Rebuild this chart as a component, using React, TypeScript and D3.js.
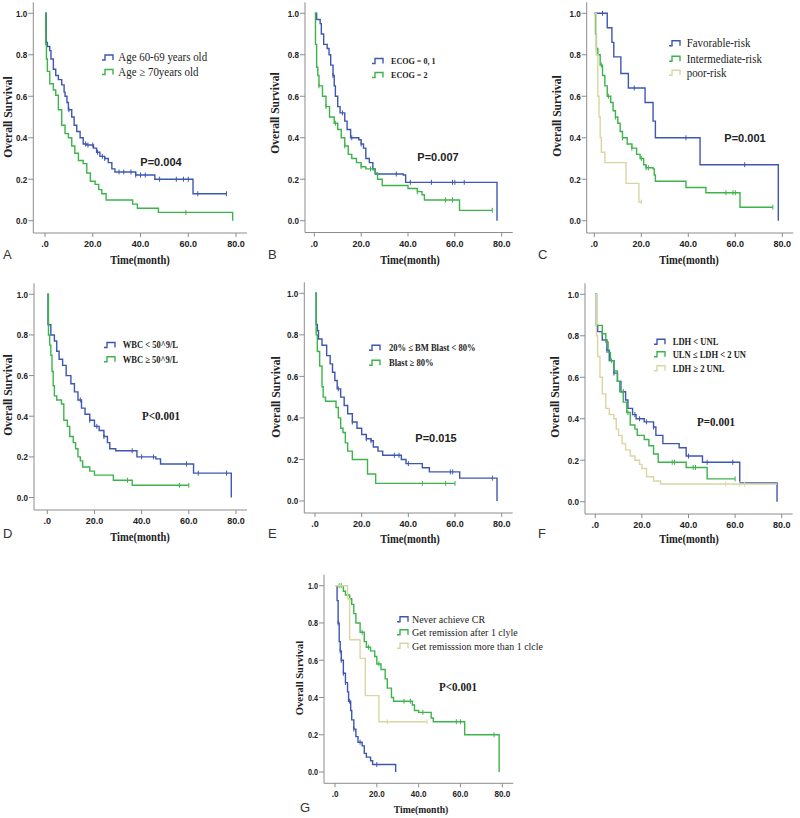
import React from "react";
import * as d3 from "d3";

type Pt = [number, number];

// ---------- axis ticks ----------
const xTicks = [0, 20, 40, 60, 80];
const xTickLabels = [".0", "20.0", "40.0", "60.0", "80.0"];
const yTicks = [0, 0.2, 0.4, 0.6, 0.8, 1.0];
const yTickLabels = ["0.0", "0.2", "0.4", "0.6", "0.8", "1.0"];
const xTitle = "Time(month)";
const yTitle = "Overall Survival";

const panelLetters = ["A", "B", "C", "D", "E", "F", "G"];
const pValues = ["P=0.004", "P=0.007", "P=0.001", "P<0.001", "P=0.015", "P=0.001", "P<0.001"];

// ---------- legends ----------
const legendA = ["Age 60-69 years old", "Age \u2265 70years old"];
const legendB = ["ECOG = 0, 1", "ECOG = 2"];
const legendC = ["Favorable-risk", "Intermediate-risk", "poor-risk"];
const legendD = ["WBC < 50^9/L", "WBC \u2265 50^9/L"];
const legendE = ["20% \u2264 BM Blast < 80%", "Blast \u2265 80%"];
const legendF = ["LDH < UNL", "ULN \u2264 LDH < 2 UN", "LDH \u2265 2 UNL"];
const legendG = ["Never achieve CR", "Get remission after 1 clyle", "Get remisssion more than 1 clcle"];

// ---------- survival steps [time, survival] ----------
const aYoung: Pt[] = [[0,1],[0.5,0.86],[1,0.84],[2,0.82],[2.5,0.78],[3.5,0.73],[4.5,0.70],[5.6,0.68],[7,0.655],[8,0.62],[8.4,0.60],[9.2,0.57],[9.8,0.535],[11.2,0.50],[12.2,0.46],[13.3,0.43],[14.7,0.40],[16,0.37],[17.5,0.365],[20.3,0.35],[21.6,0.33],[23,0.31],[25,0.30],[26.5,0.28],[28,0.25],[29.3,0.235],[38,0.22],[46,0.20],[62,0.13],[76,0.13]];
const aYoungCens = [10, 17, 18, 20, 22, 24, 25, 31, 33, 36, 38, 40, 42, 48, 55, 58, 60, 64, 76];
const aOld: Pt[] = [[0,1],[0.3,0.85],[0.6,0.78],[1,0.72],[2,0.66],[3.5,0.63],[4.5,0.605],[5.6,0.535],[7,0.46],[8.4,0.42],[9.8,0.40],[11.2,0.36],[12.5,0.325],[14,0.29],[16,0.275],[17.5,0.23],[19,0.19],[21,0.175],[22.5,0.15],[23.8,0.13],[25.6,0.10],[36.7,0.08],[38.7,0.06],[47.5,0.04],[78.6,0]];
const aOldCens = [59];

const bEcog01: Pt[] = [[0.3,1],[1,0.97],[2.5,0.95],[3,0.90],[4,0.85],[5.5,0.83],[6.3,0.80],[7,0.75],[8,0.70],[8.5,0.65],[9,0.60],[10,0.55],[11,0.52],[13,0.48],[14,0.44],[15.5,0.40],[19,0.39],[20,0.37],[21,0.35],[22,0.30],[23.5,0.28],[25,0.25],[26,0.225],[38,0.22],[39,0.185],[78,0]];
const bEcog01Cens = [8, 12, 16, 20, 35, 41, 50, 59, 60, 64];
const bEcog2: Pt[] = [[0.2,1],[0.5,0.85],[1,0.74],[1.5,0.70],[2,0.65],[3.5,0.60],[5,0.55],[6.5,0.50],[8.5,0.47],[10,0.44],[11.5,0.40],[13,0.36],[14.5,0.32],[16,0.30],[18,0.28],[20,0.26],[22,0.25],[25,0.245],[26,0.23],[27,0.20],[29,0.17],[40,0.155],[44,0.14],[46,0.125],[47,0.10],[62,0.05],[76,0.05]];
const bEcog2Cens = [2, 5, 9, 13, 20, 24, 44, 56, 59, 76];

const cFav: Pt[] = [[0,1],[5.5,0.93],[7.5,0.86],[8.3,0.79],[11.3,0.71],[14.5,0.64],[21.6,0.57],[25,0.48],[26,0.40],[45,0.27],[78.3,0]];
const cFavCens = [3.5, 17, 39, 64];
const cInt: Pt[] = [[0,1],[0.5,0.9],[0.9,0.83],[1.5,0.8],[2.5,0.75],[3.5,0.7],[4.5,0.65],[5.5,0.6],[7,0.57],[8,0.53],[9,0.5],[10,0.47],[11,0.43],[12,0.4],[14,0.37],[16,0.35],[18,0.32],[19.5,0.3],[21,0.27],[22,0.255],[25,0.25],[25.5,0.22],[26,0.19],[39,0.16],[47.5,0.135],[62,0.065],[76,0.065]];
const cIntCens = [3, 6, 9, 12, 16, 20, 22, 23, 56, 59, 60, 76];
const cPoor: Pt[] = [[0,1],[0.8,0.8],[1.5,0.6],[2,0.5],[2.5,0.4],[3,0.33],[4.5,0.28],[13.5,0.18],[19,0.09],[20,0.09]];
const cPoorCens = [20];

const dLow: Pt[] = [[0,1],[0.3,0.85],[1.5,0.8],[3,0.77],[4,0.72],[5,0.68],[6.5,0.65],[8,0.6],[10,0.56],[11.5,0.52],[13,0.48],[14.5,0.44],[16,0.41],[18,0.38],[20,0.35],[22,0.33],[24,0.30],[25.5,0.27],[26.5,0.24],[29,0.23],[38,0.20],[46,0.19],[48,0.165],[62,0.12],[78,0]];
const dLowCens = [14, 18, 21, 24, 36, 40, 45, 59, 64, 76];
const dHigh: Pt[] = [[0,1],[0.5,0.8],[1,0.75],[1.5,0.7],[2,0.62],[2.5,0.55],[3,0.5],[4,0.48],[6,0.46],[7,0.38],[8.5,0.35],[9.5,0.30],[11,0.27],[12,0.24],[13,0.20],[14,0.18],[15,0.15],[18,0.13],[20,0.11],[28,0.085],[36,0.06],[60,0.06]];
const dHighCens = [34, 56, 60];

const eLow: Pt[] = [[0,1],[0.5,0.85],[1,0.82],[1.5,0.78],[3,0.75],[5,0.70],[6.5,0.66],[7.5,0.62],[8.5,0.58],[9.5,0.54],[11,0.50],[12.5,0.46],[14,0.42],[16,0.38],[18,0.35],[20,0.32],[22,0.30],[24,0.29],[25,0.26],[27,0.24],[29,0.22],[37,0.20],[39,0.18],[46,0.16],[49,0.14],[62,0.11],[78,0]];
const eLowCens = [10, 16, 22, 24, 34, 36, 40, 58, 59, 76];
const eHigh: Pt[] = [[0,1],[0.5,0.8],[1,0.72],[2,0.65],[3,0.55],[3.5,0.5],[4.5,0.48],[9,0.45],[10,0.40],[11,0.35],[12,0.33],[13,0.28],[14,0.24],[16,0.20],[22.5,0.13],[26,0.085],[60,0.085]];
const eHighCens = [46, 56, 60];

const fLow: Pt[] = [[0,1],[0.5,0.85],[1,0.82],[3,0.78],[5,0.73],[6,0.68],[8,0.62],[9.5,0.58],[11,0.53],[13,0.49],[14,0.45],[16,0.42],[17.5,0.40],[21,0.385],[25,0.36],[26,0.32],[29,0.28],[36,0.26],[39,0.22],[46,0.19],[62,0.09],[78,0]];
const fLowCens = [5, 8, 12, 17, 19, 22, 25, 40, 48, 59];
const fMid: Pt[] = [[0,1],[0.5,0.85],[3,0.81],[4.5,0.77],[5.5,0.72],[6.5,0.68],[8,0.63],[9.5,0.58],[10.5,0.53],[12,0.48],[13.5,0.43],[15,0.37],[17,0.35],[18,0.32],[21,0.30],[23,0.27],[25,0.23],[27,0.19],[39,0.165],[48,0.11],[60,0.11]];
const fMidCens = [3, 7, 14, 33, 34, 42, 43, 60];
const fHigh: Pt[] = [[0,1],[0.5,0.8],[1,0.7],[2,0.6],[3,0.52],[4.5,0.45],[6,0.42],[8,0.40],[9,0.35],[10,0.32],[11.5,0.28],[13,0.25],[15,0.22],[17,0.20],[19,0.18],[20,0.16],[22,0.12],[25,0.10],[28,0.085],[78,0.085]];
const fHighCens = [56, 62, 64];

const gNever: Pt[] = [[0.5,1],[1,0.92],[1.5,0.8],[2,0.7],[2.5,0.65],[3,0.6],[4,0.53],[5,0.48],[6,0.43],[6.5,0.38],[7.5,0.33],[8,0.28],[9,0.23],[10,0.19],[11,0.16],[13,0.14],[14,0.10],[15,0.08],[17,0.06],[18,0.04],[29,0]];
const gNeverCens = [1.5, 2.5, 3, 4, 5, 7, 9, 12, 20];
const gOne: Pt[] = [[0.5,1],[4,0.97],[5,0.95],[7,0.93],[8,0.9],[9,0.85],[10,0.8],[12,0.75],[14,0.7],[15,0.67],[17,0.65],[19,0.62],[20,0.58],[22,0.55],[24,0.5],[25,0.45],[27,0.4],[28,0.38],[37,0.36],[38,0.33],[40,0.32],[46,0.29],[47,0.27],[62,0.2],[78.5,0]];
const gOneCens = [2, 3, 7, 13, 16, 21, 33, 36, 42, 58, 60, 76];
const gMore: Pt[] = [[0,1],[6,0.93],[7,0.71],[12,0.61],[14.5,0.41],[21,0.27],[44,0.27]];
const gMoreCens = [25, 44];

// ---------- styles ----------
const BLUE = "#3d57b1";
const GREEN = "#3db44b";
const TAN = "#d9d6a2";
const AXIS = "#8c8c8c";
const INK = "#222";
const SERIF = "'Liberation Serif', 'Times New Roman', serif";
const SANS = "'Liberation Sans', Arial, sans-serif";

interface Series { data: Pt[]; cens: number[]; color: string; }
interface Layout {
  ax: number; ay: number; x0: number; x80: number; y1: number; y0: number;
  ytx: number; yty: number; ttx: number; tty: number; lx: number; ly: number;
  px: number; py: number; pSerif: boolean;
  legIcon: number; legText: number; legRows: number[]; legBold: boolean; legSize: number;
  tick: number;
}

const layouts: Layout[] = [
  { ax: 33.3, ay: 233, x0: 45, x80: 236, y1: 13.3, y0: 220.7, ytx: 8, yty: 117, ttx: 140, tty: 264, lx: 3, ly: 259, px: 161, py: 162, pSerif: false, legIcon: 102, legText: 118.3, legRows: [57.5, 72], legBold: false, legSize: 11.5, tick: 9.5 },
  { ax: 305, ay: 232.5, x0: 314.3, x80: 501.7, y1: 13.3, y0: 220.7, ytx: 275, yty: 113, ttx: 410, tty: 264, lx: 268, ly: 259, px: 438, py: 157, pSerif: false, legIcon: 372, legText: 391, legRows: [61, 75], legBold: true, legSize: 9, tick: 9.5 },
  { ax: 586.7, ay: 233, x0: 594.3, x80: 782.3, y1: 13.3, y0: 220.7, ytx: 557, yty: 116, ttx: 689, tty: 264, lx: 538, ly: 259, px: 745, py: 138.3, pSerif: false, legIcon: 669, legText: 686.7, legRows: [43.3, 58.7, 72.7], legBold: false, legSize: 11.5, tick: 9.5 },
  { ax: 34, ay: 510, x0: 47.3, x80: 236, y1: 294.3, y0: 497.5, ytx: 7.5, yty: 395, ttx: 140, tty: 541, lx: 3, ly: 538, px: 161, py: 416, pSerif: true, legIcon: 104, legText: 122.7, legRows: [345, 359.3], legBold: true, legSize: 9.5, tick: 9.5 },
  { ax: 304.3, ay: 513, x0: 315, x80: 501.7, y1: 293.3, y0: 501, ytx: 276, yty: 397, ttx: 410, tty: 543, lx: 268, ly: 538, px: 436, py: 438, pSerif: false, legIcon: 369, legText: 389, legRows: [347.7, 362.7], legBold: true, legSize: 9.5, tick: 9.5 },
  { ax: 585, ay: 514, x0: 595.3, x80: 781.7, y1: 294.3, y0: 501.7, ytx: 555, yty: 397, ttx: 689, tty: 543, lx: 538, ly: 538, px: 716, py: 422, pSerif: true, legIcon: 654, legText: 672.7, legRows: [341.7, 354.3, 368.3], legBold: true, legSize: 9.5, tick: 9.5 },
  { ax: 324, ay: 783.3, x0: 335, x80: 502.3, y1: 585.7, y0: 772, ytx: 299, yty: 678, ttx: 421, tty: 813, lx: 300, ly: 812, px: 458, py: 686.7, pSerif: true, legIcon: 397, legText: 412, legRows: [619.3, 632.3, 645.7], legBold: false, legSize: 10.5, tick: 8.5 },
];

const panelSeries: Series[][] = [
  [{ data: aYoung, cens: aYoungCens, color: BLUE }, { data: aOld, cens: aOldCens, color: GREEN }],
  [{ data: bEcog01, cens: bEcog01Cens, color: BLUE }, { data: bEcog2, cens: bEcog2Cens, color: GREEN }],
  [{ data: cFav, cens: cFavCens, color: BLUE }, { data: cInt, cens: cIntCens, color: GREEN }, { data: cPoor, cens: cPoorCens, color: TAN }],
  [{ data: dLow, cens: dLowCens, color: BLUE }, { data: dHigh, cens: dHighCens, color: GREEN }],
  [{ data: eLow, cens: eLowCens, color: BLUE }, { data: eHigh, cens: eHighCens, color: GREEN }],
  [{ data: fLow, cens: fLowCens, color: BLUE }, { data: fMid, cens: fMidCens, color: GREEN }, { data: fHigh, cens: fHighCens, color: TAN }],
  [{ data: gNever, cens: gNeverCens, color: BLUE }, { data: gOne, cens: gOneCens, color: GREEN }, { data: gMore, cens: gMoreCens, color: TAN }],
];
const panelLegends = [legendA, legendB, legendC, legendD, legendE, legendF, legendG];

function survAt(data: Pt[], t: number): number {
  let s = data[0][1];
  for (const [tt, ss] of data) { if (tt <= t) s = ss; else break; }
  return s;
}

function Txt(props: { x: number; y: number; sx?: number; size: number; family: string; bold?: boolean; anchor?: string; fill?: string; children: React.ReactNode }) {
  const { x, y, sx = 1, size, family, bold, anchor = "start", fill = INK } = props;
  return (
    <text transform={`translate(${x},${y}) scale(${sx},1)`} fontSize={size} fontFamily={family}
      fontWeight={bold ? "bold" : "normal"} textAnchor={anchor} fill={fill}>{props.children}</text>
  );
}

function Panel({ idx }: { idx: number }) {
  const L = layouts[idx];
  const x = d3.scaleLinear().domain([0, 80]).range([L.x0, L.x80]);
  const y = d3.scaleLinear().domain([0, 1]).range([L.y0, L.y1]);
  const line = d3.line<Pt>().x(d => x(d[0])).y(d => y(d[1])).curve(d3.curveStepAfter);
  const top = L.y1 - 11;
  const right = L.x80 + 11;
  const series = panelSeries[idx];
  const legend = panelLegends[idx];
  return (
    <g>
      {/* axes */}
      <line x1={L.ax} x2={L.ax} y1={top} y2={L.ay} stroke={AXIS} strokeWidth={1} />
      <line x1={L.ax} x2={right} y1={L.ay} y2={L.ay} stroke={AXIS} strokeWidth={1} />
      {yTicks.map((v, i) => (
        <g key={"y" + i}>
          <line x1={L.ax - 5} x2={L.ax} y1={y(v)} y2={y(v)} stroke={AXIS} />
          <Txt x={L.ax - 6} y={y(v) + 3.3} size={L.tick} family={SANS} bold anchor="end" sx={0.85}>{yTickLabels[i]}</Txt>
        </g>
      ))}
      {xTicks.map((v, i) => (
        <g key={"x" + i}>
          <line x1={x(v)} x2={x(v)} y1={L.ay} y2={L.ay + 4} stroke={AXIS} />
          <Txt x={x(v)} y={L.ay + 14} size={L.tick} family={SANS} bold anchor="middle" sx={0.95}>{xTickLabels[i]}</Txt>
        </g>
      ))}
      {/* titles */}
      <text transform={`translate(${L.ytx},${L.yty}) rotate(-90)`} dy="0.35em" fontSize={idx === 6 ? 10.5 : 11.5}
        fontFamily={SERIF} fontWeight="bold" textAnchor="middle" fill={INK}>{yTitle}</text>
      <Txt x={L.ttx} y={L.tty} size={idx === 6 ? 11 : 12} family={SERIF} bold anchor="middle" sx={0.88}>{xTitle}</Txt>
      <Txt x={L.lx} y={L.ly} size={13} family={SANS} anchor="start" fill="#333">{panelLetters[idx]}</Txt>
      {/* curves */}
      {series.map((s, i) => (
        <g key={"s" + i}>
          <path d={line(s.data) || ""} fill="none" stroke={s.color} strokeWidth={1.4} />
          {s.cens.map((t, j) => (
            <line key={j} x1={x(t)} x2={x(t)} y1={y(survAt(s.data, t)) - 2.5} y2={y(survAt(s.data, t)) + 2.5}
              stroke={s.color} strokeWidth={1} />
          ))}
        </g>
      ))}
      {/* legend */}
      {legend.map((lab, i) => {
        const cy = L.legRows[i];
        const ix = L.legIcon;
        const c = series[i].color;
        return (
          <g key={"l" + i}>
            <path d={`M${ix},${cy + 2.5} h3 v-5 h8 v5`} fill="none" stroke={c} strokeWidth={1.4} />
            <Txt x={L.legText} y={cy + (L.legBold ? 3.2 : 3.8)} size={L.legSize} family={SERIF} bold={L.legBold} sx={L.legBold ? 0.9 : 0.95}>{lab}</Txt>
          </g>
        );
      })}
      {/* p value */}
      <Txt x={L.px} y={L.py + 4} size={L.pSerif ? 12 : 11} family={L.pSerif ? SERIF : SANS} bold anchor="middle" sx={L.pSerif ? 0.92 : 1}>{pValues[idx]}</Txt>
    </g>
  );
}

export default function App() {
  return (
    <svg width={800} height={818} style={{ position: "absolute", left: 0, top: 0, background: "#fff" }}>
      <rect x={0} y={0} width={800} height={818} fill="#fff" />
      {layouts.map((_, i) => <Panel key={i} idx={i} />)}
    </svg>
  );
}
